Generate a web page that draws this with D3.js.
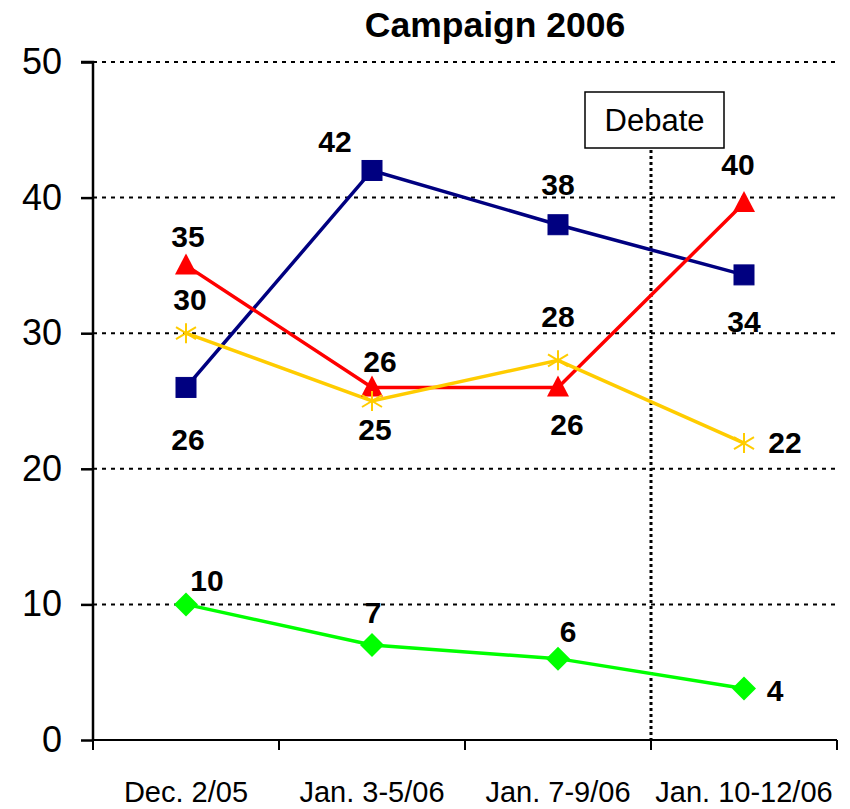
<!DOCTYPE html>
<html>
<head>
<meta charset="utf-8">
<script src="https://cdn.jsdelivr.net/npm/d3@7"></script>
<style>
  html, body { margin: 0; padding: 0; background: #fff; }
  svg { display: block; font-family: Arial, "Liberation Sans", Helvetica, sans-serif; }
</style>
</head>
<body>
<svg id="chart" width="850" height="809"></svg>
<script>
// ---- data ----
const title = "Campaign 2006";
const categories = ["Dec. 2/05", "Jan. 3-5/06", "Jan. 7-9/06", "Jan. 10-12/06"];
const yTicks = [0, 10, 20, 30, 40, 50];
const blueValues = [26, 42, 38, 34.3];
const redValues = [35, 26, 26, 39.6];
const yellowValues = [30, 25, 28, 21.9];
const greenValues = [10, 7, 6, 3.8];
const debateLabel = "Debate";
const debateAfterCategory = "Jan. 7-9/06";

// ---- layout / style (not data) ----
const W = 850, H = 809;
const plot = { left: 93, right: 837, top: 62, bottom: 740 };

const series = [
  { values: blueValues, color: "#000080", marker: "square",
    labelOffsets: [[2, 63], [-37, -18], [0, -30], [0, 57]] },
  { values: redValues, color: "#ff0000", marker: "triangle",
    labelOffsets: [[2, -18], [8, -15], [9, 48], [-6, -28]] },
  { values: yellowValues, color: "#ffcc00", marker: "star",
    labelOffsets: [[4, -23], [3, 39], [0, -33], [41, 10]] },
  { values: greenValues, color: "#00ff00", marker: "diamond",
    labelOffsets: [[21, -13], [1, -22], [10, -17], [31, 13]] }
];

const svg = d3.select("#chart");

const x = d3.scaleBand().domain(categories).range([plot.left, plot.right]).paddingInner(0).paddingOuter(0);
const y = d3.scaleLinear().domain([0, 50]).range([plot.bottom, plot.top]);
const cx = c => x(c) + x.bandwidth() / 2;

// gridlines (dotted)
svg.append("g").selectAll("line")
  .data(yTicks.filter(t => t > 0))
  .join("line")
  .attr("x1", plot.left).attr("x2", plot.right)
  .attr("y1", d => y(d)).attr("y2", d => y(d))
  .attr("stroke", "#000").attr("stroke-width", 2)
  .attr("stroke-dasharray", "4,5");

// debate line
const debateX = x(debateAfterCategory) + x.bandwidth();
svg.append("line")
  .attr("x1", debateX).attr("x2", debateX)
  .attr("y1", 150).attr("y2", plot.bottom)
  .attr("stroke", "#000").attr("stroke-width", 3)
  .attr("stroke-dasharray", "3,3");

// y axis
const yAxis = d3.axisLeft(y).tickValues(yTicks).tickSize(12).tickPadding(19);
const gy = svg.append("g").attr("transform", `translate(${plot.left},0)`).call(yAxis);
gy.select(".domain").attr("stroke", "#000").attr("stroke-width", 2.5).attr("d", `M-12,${plot.top}H0V${plot.bottom}`);
gy.selectAll(".tick line").attr("stroke", "#000").attr("stroke-width", 2.5);
gy.selectAll(".tick text").attr("font-size", 36).attr("fill", "#000")
  .attr("font-family", "Arial, 'Liberation Sans', sans-serif");

// x axis line
svg.append("line")
  .attr("x1", plot.left).attr("x2", plot.right)
  .attr("y1", plot.bottom).attr("y2", plot.bottom)
  .attr("stroke", "#000").attr("stroke-width", 2);
// x tick marks at category boundaries
const boundaries = categories.map(c => x(c)).concat([x(categories[categories.length - 1]) + x.bandwidth()]);
svg.append("g").selectAll("line").data(boundaries).join("line")
  .attr("x1", d => d).attr("x2", d => d)
  .attr("y1", plot.bottom).attr("y2", plot.bottom + 10)
  .attr("stroke", "#000").attr("stroke-width", 2);
// x labels
svg.append("g").selectAll("text").data(categories).join("text")
  .attr("x", d => cx(d)).attr("y", 802)
  .attr("text-anchor", "middle").attr("font-size", 29).attr("fill", "#000")
  .text(d => d);

// title
svg.append("text").attr("x", 495).attr("y", 37)
  .attr("text-anchor", "middle").attr("font-size", 35.5).attr("font-weight", "bold")
  .text(title);

// debate box
svg.append("rect").attr("x", 585).attr("y", 92).attr("width", 139).attr("height", 56)
  .attr("fill", "#fff").attr("stroke", "#000").attr("stroke-width", 1.5);
svg.append("text").attr("x", 654.5).attr("y", 131)
  .attr("text-anchor", "middle").attr("font-size", 31).text(debateLabel);

// lines
const line = d3.line().x((d, i) => cx(categories[i])).y(d => y(d));
series.forEach(s => {
  svg.append("path").datum(s.values)
    .attr("d", line).attr("fill", "none")
    .attr("stroke", s.color).attr("stroke-width", 3.5).attr("stroke-linejoin", "miter");
});

// markers
function drawMarker(g, type, color, px, py) {
  if (type === "square") {
    g.append("rect").attr("x", px - 10).attr("y", py - 10).attr("width", 20).attr("height", 20)
      .attr("fill", color).attr("stroke", color).attr("stroke-width", 1);
  } else if (type === "triangle") {
    g.append("path").attr("d", `M${px},${py - 12}L${px + 11},${py + 9}L${px - 11},${py + 9}Z`)
      .attr("fill", color);
  } else if (type === "diamond") {
    g.append("path").attr("d", `M${px},${py - 12}L${px + 12},${py}L${px},${py + 12}L${px - 12},${py}Z`)
      .attr("fill", color);
  } else if (type === "star") {
    const r = 10;
    g.append("path")
      .attr("d", `M${px},${py - r}V${py + r}M${px - r},${py - r * 0.6}L${px + r},${py + r * 0.6}M${px - r},${py + r * 0.6}L${px + r},${py - r * 0.6}`)
      .attr("stroke", color).attr("stroke-width", 2).attr("fill", "none");
  }
}
series.forEach(s => {
  const g = svg.append("g");
  s.values.forEach((v, i) => drawMarker(g, s.marker, s.color, cx(categories[i]), y(v)));
});

// data labels
const fmt = d3.format(".0f");
series.forEach(s => {
  svg.append("g").selectAll("text").data(s.values).join("text")
    .attr("x", (d, i) => cx(categories[i]) + s.labelOffsets[i][0])
    .attr("y", (d, i) => y(d) + s.labelOffsets[i][1])
    .attr("text-anchor", "middle").attr("font-size", 30).attr("font-weight", "bold")
    .attr("fill", "#000")
    .text(d => fmt(d));
});
</script>
</body>
</html>
